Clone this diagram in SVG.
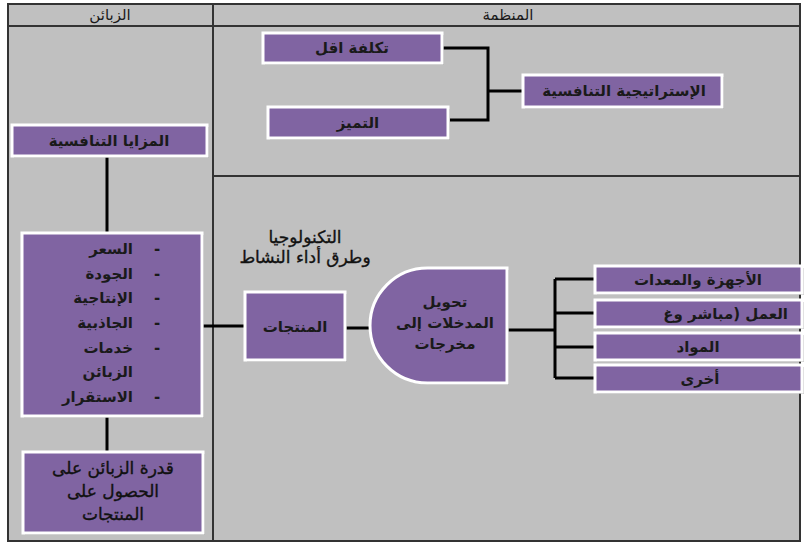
<svg xmlns="http://www.w3.org/2000/svg" width="805" height="547" viewBox="0 0 805 547">
<style>
.frame{fill:none;stroke:#333;stroke-width:2}
.box{fill:#8064A2;stroke:#fff;stroke-width:3}
.shadow{fill:#8a8a8a;opacity:0.5}
.conn{fill:none;stroke:#000;stroke-width:3}
.t{font-family:"DejaVu Sans",sans-serif;font-size:15px;font-weight:bold;fill:#1a1a1a;direction:rtl}
.h{font-family:"DejaVu Sans",sans-serif;font-size:15px;fill:#1a1a1a;direction:rtl}
.n{font-family:"DejaVu Sans",sans-serif;font-size:17px;fill:#111;stroke:#111;stroke-width:0.35;direction:rtl}
</style>
<rect x="0" y="0" width="805" height="547" fill="#fff"/>
<rect x="8" y="4" width="792" height="537" fill="#C0C0C0"/>
<g id="frame">
<rect class="frame" x="8" y="4" width="792" height="537"/>
<line class="frame" x1="8" y1="26" x2="800" y2="26"/>
<line class="frame" x1="213" y1="4" x2="213" y2="541"/>
<line class="frame" x1="213" y1="176" x2="800" y2="176"/>
<text class="h" x="110" y="20" text-anchor="middle">الزبائن</text>
<text class="h" x="508" y="20" text-anchor="middle">المنظمة</text>
</g>
<g id="connectors">
<polyline class="conn" points="442,48 488,48 488,120 450,120"/>
<line class="conn" x1="488" y1="91" x2="523" y2="91"/>
<line class="conn" x1="107" y1="156" x2="107" y2="233"/>
<line class="conn" x1="107" y1="416" x2="107" y2="452"/>
<line class="conn" x1="202" y1="326" x2="245" y2="326"/>
<line class="conn" x1="345" y1="328" x2="371" y2="328"/>
<line class="conn" x1="507" y1="330" x2="555" y2="330"/>
<line class="conn" x1="555" y1="279" x2="555" y2="378"/>
<line class="conn" x1="555" y1="279" x2="595" y2="279"/>
<line class="conn" x1="555" y1="313" x2="595" y2="313"/>
<line class="conn" x1="555" y1="347" x2="595" y2="347"/>
<line class="conn" x1="555" y1="378" x2="595" y2="378"/>
</g>
<g id="n-cost">
<rect class="shadow" x="265" y="35" width="179" height="30"/>
<rect class="box" x="263" y="33" width="179" height="30"/>
<text class="t" x="352" y="53" text-anchor="middle">تكلفة اقل</text>
</g>
<g id="n-distinct">
<rect class="shadow" x="270" y="109" width="180" height="31"/>
<rect class="box" x="268" y="107" width="180" height="31"/>
<text class="t" x="358" y="128" text-anchor="middle">التميز</text>
</g>
<g id="n-strategy">
<rect class="shadow" x="525" y="77" width="199" height="32"/>
<rect class="box" x="523" y="75" width="199" height="32"/>
<text class="t" x="624" y="96" text-anchor="middle">الإستراتيجية التنافسية</text>
</g>
<g id="n-advantages">
<rect class="shadow" x="14" y="127" width="195" height="31"/>
<rect class="box" x="12" y="125" width="195" height="31"/>
<text class="t" x="109" y="146" text-anchor="middle">المزايا التنافسية</text>
</g>
<g id="n-list">
<rect class="shadow" x="24" y="235" width="180" height="183"/>
<rect class="box" x="22" y="233" width="180" height="183"/>
<text class="t" x="133" y="254" text-anchor="start">السعر</text>
<text class="t" x="133" y="279" text-anchor="start">الجودة</text>
<text class="t" x="133" y="303" text-anchor="start">الإنتاجية</text>
<text class="t" x="133" y="328" text-anchor="start">الجاذبية</text>
<text class="t" x="133" y="353" text-anchor="start">خدمات</text>
<text class="t" x="133" y="377" text-anchor="start">الزبائن</text>
<text class="t" x="133" y="402" text-anchor="start">الاستقرار</text>
<text class="t" x="157" y="254" text-anchor="middle">-</text>
<text class="t" x="157" y="279" text-anchor="middle">-</text>
<text class="t" x="157" y="303" text-anchor="middle">-</text>
<text class="t" x="157" y="328" text-anchor="middle">-</text>
<text class="t" x="157" y="353" text-anchor="middle">-</text>
<text class="t" x="157" y="402" text-anchor="middle">-</text>
</g>
<g id="n-ability">
<rect class="shadow" x="25" y="454" width="180" height="81"/>
<rect class="box" x="23" y="452" width="180" height="81"/>
<text class="n" x="113" y="474" text-anchor="middle">قدرة الزبائن على</text>
<text class="n" x="113" y="497" text-anchor="middle">الحصول على</text>
<text class="n" x="113" y="520" text-anchor="middle">المنتجات</text>
</g>
<g id="tech-label">
<text class="n" x="305" y="243" text-anchor="middle">التكنولوجيا</text>
<text class="n" x="305" y="263" text-anchor="middle">وطرق أداء النشاط</text>
</g>
<g id="n-products">
<rect class="shadow" x="247" y="294" width="100" height="68"/>
<rect class="box" x="245" y="292" width="100" height="68"/>
<text class="t" x="295" y="332" text-anchor="middle">المنتجات</text>
</g>
<g id="n-transform">
<path class="shadow" d="M429.5,270 L509,270 L509,385 L429.5,385 A57.5,57.5 0 0 1 429.5,270 Z"/>
<path class="box" d="M427.5,268 L507,268 L507,383 L427.5,383 A57.5,57.5 0 0 1 427.5,268 Z"/>
<text class="t" x="445" y="307" text-anchor="middle">تحويل</text>
<text class="t" x="445" y="328" text-anchor="middle">المدخلات إلى</text>
<text class="t" x="445" y="349" text-anchor="middle">مخرجات</text>
</g>
<g id="n-equipment">
<rect class="shadow" x="597" y="268" width="207" height="27"/>
<rect class="box" x="595" y="266" width="207" height="27"/>
<text class="t" x="698" y="285" text-anchor="middle">الأجهزة والمعدات</text>
</g>
<g id="n-labor">
<rect class="shadow" x="597" y="302" width="207" height="27"/>
<rect class="box" x="595" y="300" width="207" height="27"/>
<text class="t" x="788" y="319" text-anchor="start">العمل (مباشر وغ</text>
</g>
<g id="n-materials">
<rect class="shadow" x="597" y="335" width="207" height="27"/>
<rect class="box" x="595" y="333" width="207" height="27"/>
<text class="t" x="698" y="352" text-anchor="middle">المواد</text>
</g>
<g id="n-other">
<rect class="shadow" x="597" y="367" width="207" height="27"/>
<rect class="box" x="595" y="365" width="207" height="27"/>
<text class="t" x="700" y="384" text-anchor="middle">أخرى</text>
</g>
</svg>
